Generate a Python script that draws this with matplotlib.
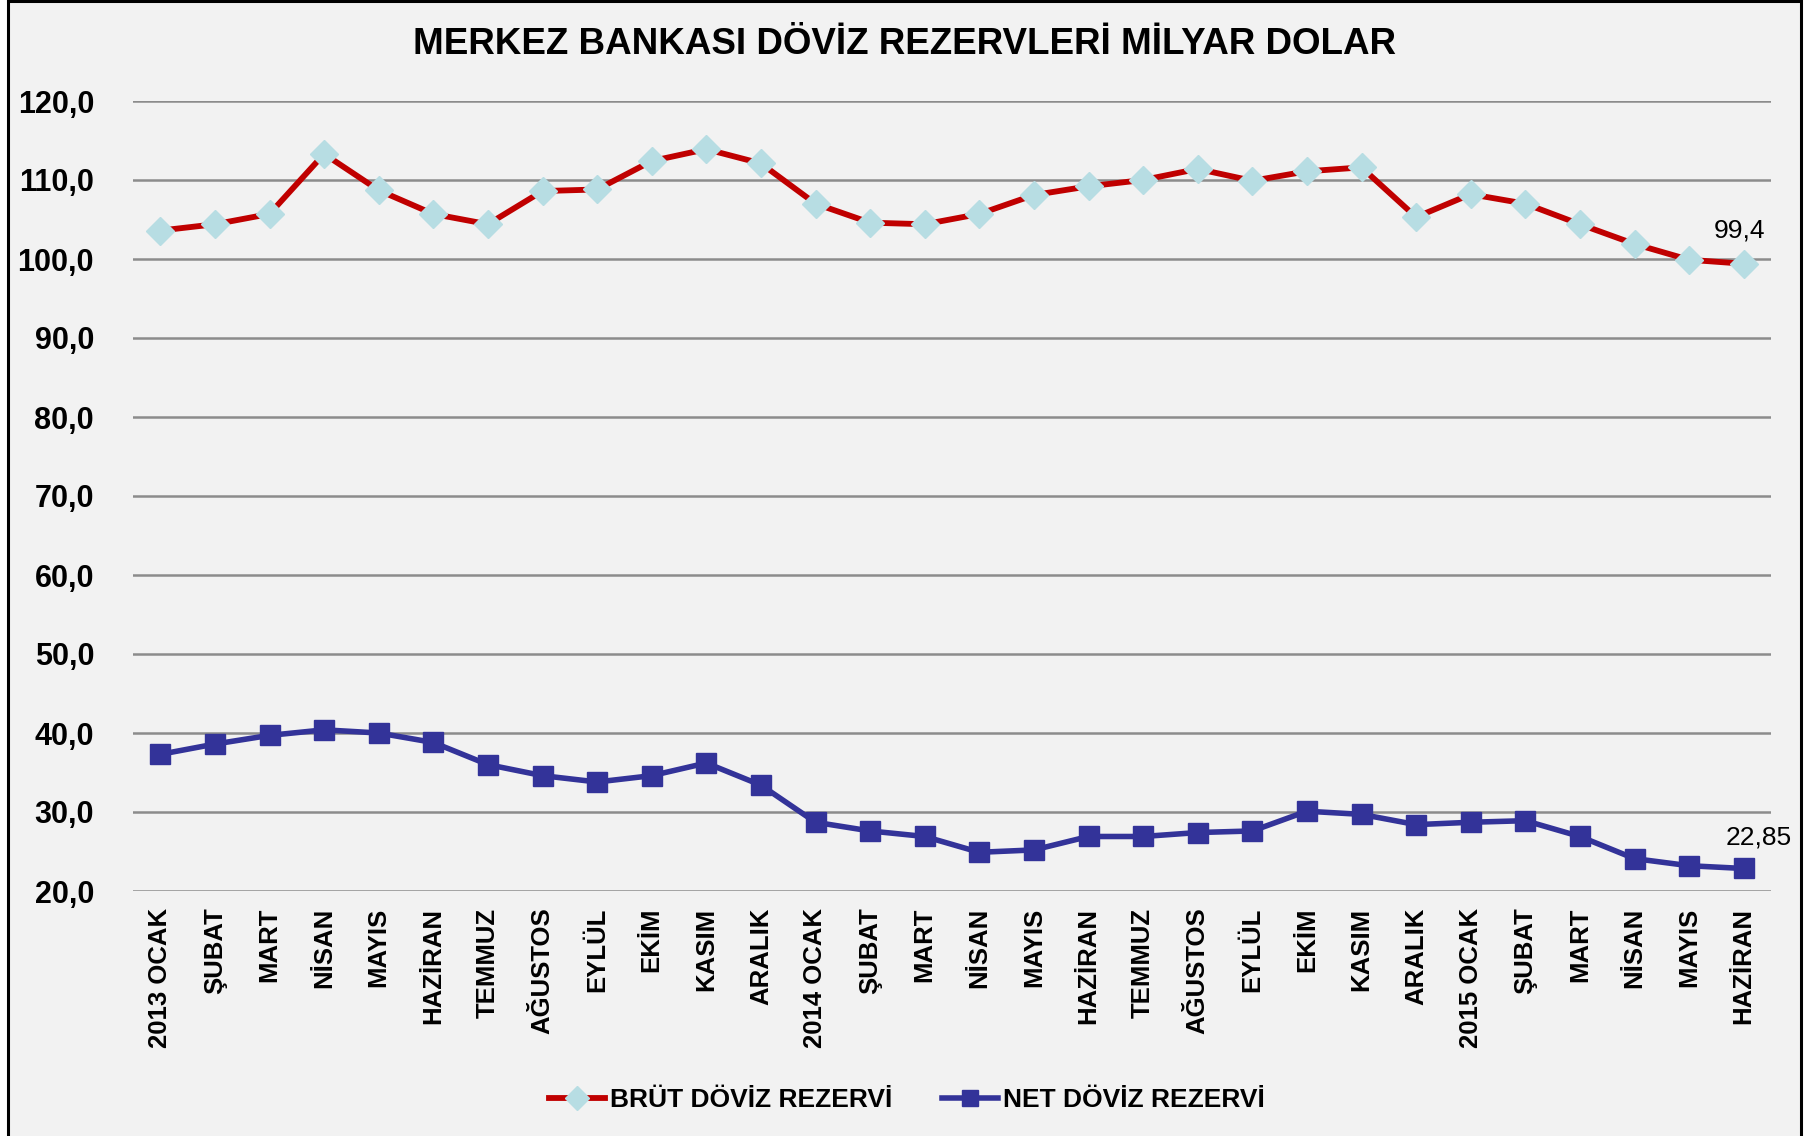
import matplotlib.pyplot as plt
from matplotlib.patches import Rectangle

months = ['2013 OCAK', 'ŞUBAT', 'MART', 'NİSAN', 'MAYIS', 'HAZİRAN', 'TEMMUZ',
          'AĞUSTOS', 'EYLÜL', 'EKİM', 'KASIM', 'ARALIK',
          '2014 OCAK', 'ŞUBAT', 'MART', 'NİSAN', 'MAYIS', 'HAZİRAN', 'TEMMUZ',
          'AĞUSTOS', 'EYLÜL', 'EKİM', 'KASIM', 'ARALIK',
          '2015 OCAK', 'ŞUBAT', 'MART', 'NİSAN', 'MAYIS', 'HAZİRAN']
brut = [103.6, 104.4, 105.7, 113.3, 108.7, 105.7, 104.4, 108.6, 108.8, 112.4,
        113.9, 112.1, 107.0, 104.6, 104.4, 105.7, 108.1, 109.2, 110.0, 111.4,
        109.9, 111.1, 111.6, 105.3, 108.2, 107.0, 104.4, 101.9, 99.9, 99.4]
net = [37.3, 38.6, 39.7, 40.4, 40.0, 38.8, 36.0, 34.6, 33.8, 34.6,
       36.2, 33.4, 28.7, 27.6, 26.9, 24.9, 25.2, 26.9, 26.9, 27.4,
       27.6, 30.1, 29.7, 28.4, 28.7, 28.9, 26.9, 24.1, 23.2, 22.85]
yticks = [20, 30, 40, 50, 60, 70, 80, 90, 100, 110, 120]

plt.rcParams['font.family'] = ['Liberation Sans', 'DejaVu Sans']
bg = '#f2f2f2'

fig = plt.figure(figsize=(18.18, 11.36), dpi=100, facecolor='white')
# chart frame
fig.patches.append(Rectangle((8 / 1818, -0.05), 1793 / 1818, 1.05 - 1.5 / 1136,
                             transform=fig.transFigure, facecolor=bg,
                             edgecolor='black', linewidth=2.2, zorder=-5))

ax = fig.add_axes([133 / 1818, 1 - 891 / 1136, (1771 - 133) / 1818, (891 - 101) / 1136])
ax.set_facecolor(bg)
x = list(range(len(months)))

ax.plot(x, brut, color='#c00000', lw=4.2, marker='D', ms=14,
        markerfacecolor='#b7dde3', markeredgecolor='#b7dde3',
        label='BRÜT DÖVİZ REZERVİ', zorder=3, clip_on=False)
ax.plot(x, net, color='#333399', lw=4.0, marker='s', ms=14,
        markerfacecolor='#333399', markeredgecolor='#333399',
        label='NET DÖVİZ REZERVİ', zorder=3, clip_on=False)

ax.set_xlim(-0.5, len(months) - 0.5)
ax.set_ylim(20, 120)
ax.set_yticks(yticks)
ax.set_yticklabels([f'{v:.1f}'.replace('.', ',') for v in yticks],
                   fontsize=22, fontweight='bold')
ax.set_xticks(x)
ax.set_xticklabels(months, rotation=90, fontsize=18.5, fontweight='bold')
ax.tick_params(axis='y', length=0, pad=28)
ax.tick_params(axis='x', length=0, pad=12)
ax.grid(axis='y', color='#8c8c8c', lw=1.8)
ax.set_axisbelow(True)
for s in ax.spines.values():
    s.set_visible(False)

ax.annotate('99,4', (x[-1], brut[-1]), xytext=(-3, 15), textcoords='offset points',
            ha='center', va='bottom', fontsize=19)
ax.annotate('22,85', (x[-1], net[-1]), xytext=(11, 14), textcoords='offset points',
            ha='center', va='bottom', fontsize=19)

fig.text(0.4975, 1 - 44 / 1136, 'MERKEZ BANKASI DÖVİZ REZERVLERİ MİLYAR DOLAR',
         ha='center', va='center', fontsize=26.5, fontweight='bold')

fig.legend(loc='center', bbox_to_anchor=(907 / 1818, 1 - 1100 / 1136), ncol=2,
           frameon=False, prop={'size': 19, 'weight': 'bold'},
           handlelength=2.1, handletextpad=0.2, columnspacing=1.9, markerscale=0.85)

fig.savefig('out.png', dpi=100, facecolor='white')
